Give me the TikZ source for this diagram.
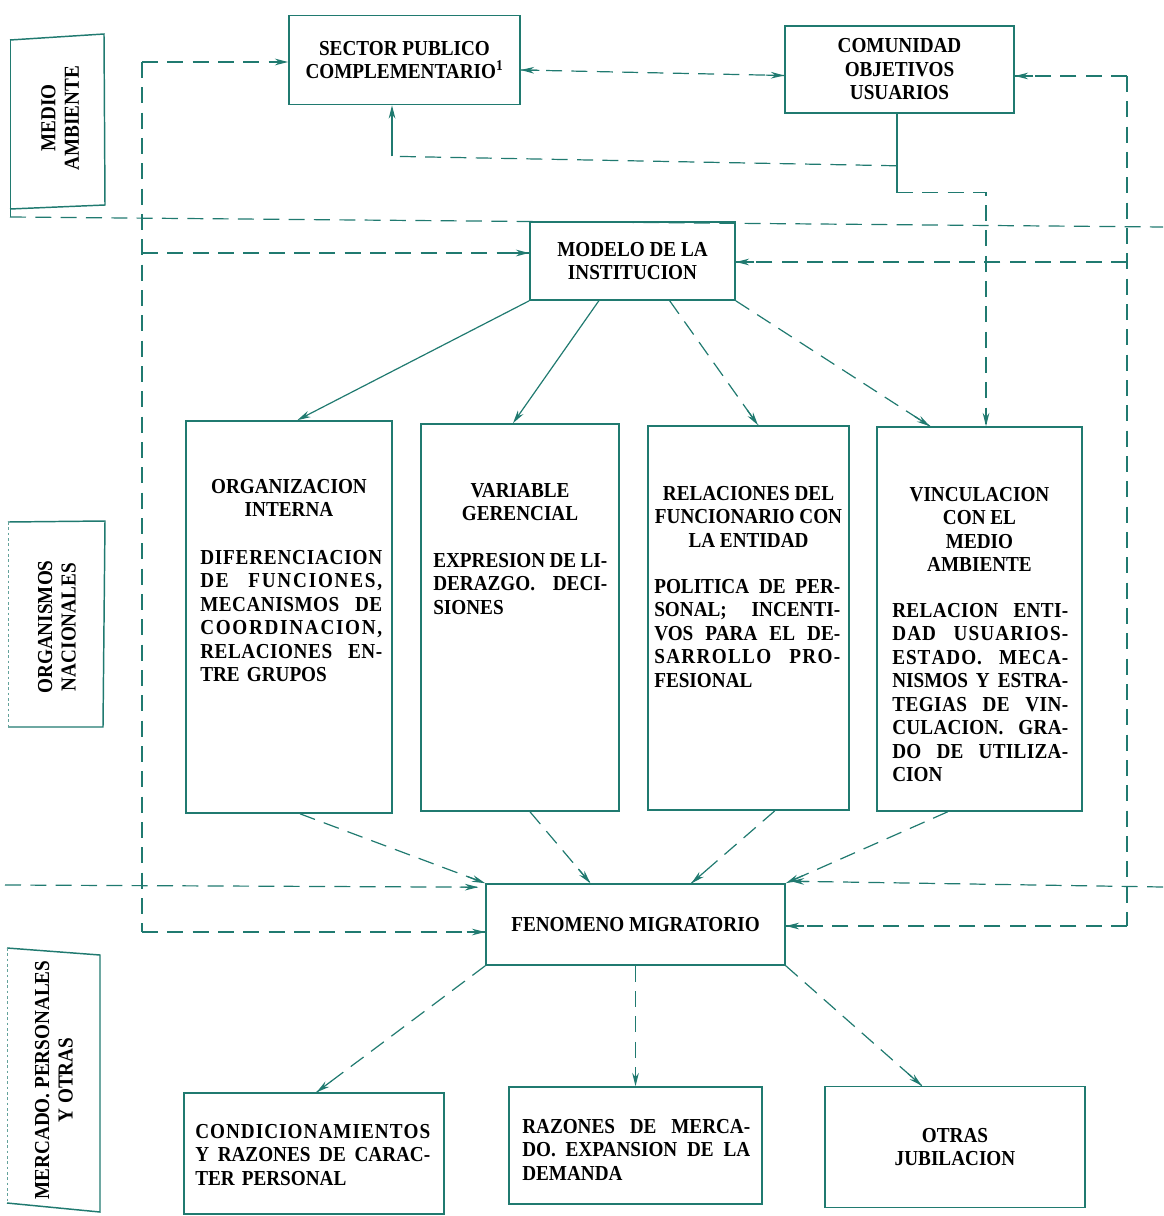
\documentclass[tikz,border=0pt]{standalone}
\usepackage{fontspec}
\setmainfont[FakeStretch=0.9]{Liberation Serif}
\usetikzlibrary{arrows.meta,calc}
\definecolor{tl}{RGB}{32,122,112}
\newlength\jwd
\newcommand\jl[1]{\leavevmode\hbox to\jwd{#1}}
\makeatletter
\def\spr@b#1{\ifx#1\relax\else\hfil\relax #1\expandafter\spr@b\fi}
\def\spreadword#1#2\relax{#1\spr@b#2\relax}
\makeatother
\newcommand\jsp[1]{\leavevmode\hbox to\jwd{\spreadword#1\relax}}
\newcommand\tipat[2]{\draw[sl,arw] ($#2!14pt!#1$) -- #2;}
\newcommand\dashto[2]{\draw[dl] #1 -- #2; \tipat{#1}{#2}}
\begin{document}
\begin{tikzpicture}[x=0.75pt,y=-0.75pt,
  box/.style={draw=tl, line width=1.2pt, inner sep=0pt, align=center,
    font=\fontsize{16}{17.6}\selectfont\bfseries},
  txt/.style={inner sep=0pt, font=\fontsize{16}{17.6}\selectfont\bfseries},
  lbl/.style={inner sep=0pt, align=center, font=\fontsize{16}{17.6}\selectfont\bfseries},
  frame/.style={draw=tl, line width=1.1pt},
  faint/.style={draw=tl!70, line width=0.6pt, dash pattern=on 2pt off 2pt},
  dl/.style={draw=tl, line width=0.9pt, dash pattern=on 12pt off 7pt},
  sl/.style={draw=tl, line width=0.9pt},
  arw/.style={-{Stealth[length=10pt,width=5pt]}}]
\useasboundingbox (0,0) rectangle (1163,1216);

% ---- side labels
\draw[frame] (10,40) -- (104,34) -- (105,205) -- (10,209);
\draw[sl, line width=0.7pt] (10,40) -- (10,217);
\node[lbl, rotate=90] (lmedio) at (60,118) {MEDIO\\AMBIENTE};
\draw[frame] (8,522) -- (105,521) -- (103,727) -- (8,727);
\draw[faint] (8,522) -- (8,727);
\node[lbl, rotate=90] (lorg) at (57,627) {ORGANISMOS\\NACIONALES};
\draw[frame] (7,948) -- (100,955) -- (100,1212) -- (7,1203);
\draw[faint] (7,948) -- (7,1203);
\node[lbl, rotate=90] (lmer) at (54,1080) {MERCADO. PERSONALES\\Y OTRAS};

% ---- boxes
\node[box, minimum width=173.25pt, minimum height=66.75pt] (sector) at (404.5,60) {SECTOR PUBLICO\\COMPLEMENTARIO\textsuperscript{1}};
\node[box, minimum width=171.75pt, minimum height=65.25pt] (comunidad) at (899.5,69.5) {COMUNIDAD\\OBJETIVOS\\USUARIOS};
\node[box, minimum width=153.75pt, minimum height=58.5pt] (modelo) at (632.5,261) {MODELO DE LA\\INSTITUCION};

\node[box, minimum width=154.5pt, minimum height=294pt] (org) at (289,617) {};
\node[box, minimum width=148.5pt, minimum height=290.25pt] (var) at (520,617.5) {};
\node[box, minimum width=150.75pt, minimum height=288pt] (rel) at (748.5,618) {};
\node[box, minimum width=153.75pt, minimum height=288pt] (vin) at (979.5,619) {};

\node[box, minimum width=224.25pt, minimum height=60.75pt] (fen) at (635.5,924.5) {FENOMENO MIGRATORIO};

\node[box, minimum width=195pt, minimum height=90.75pt] (cond) at (314,1153.5) {};
\node[box, minimum width=189.75pt, minimum height=87.75pt] (raz) at (635.5,1145.5) {};
\node[box, minimum width=195pt, minimum height=90.75pt] (otr) at (955,1147) {OTRAS\\JUBILACION};

% ---- texts inside the tall boxes
\node[txt, align=center, anchor=north] (orgT) at (289,479) {ORGANIZACION\\INTERNA};
\node[txt, text width=136.5pt, anchor=north west] (orgB) at (200,550) {\setlength\jwd{136.5pt}\jsp{DIFERENCIACION}\\\jsp{DE~~FUNCIONES,}\\\jsp{MECANISMOS~~DE}\\\jsp{COORDINACION,}\\\jsp{RELACIONES~~EN-}\\TRE GRUPOS};

\node[txt, align=center, anchor=north] (varT) at (520,483) {VARIABLE\\GERENCIAL};
\node[txt, text width=130.5pt, anchor=north west] (varB) at (433,553) {\setlength\jwd{130.5pt}\jl{EXPRESION\hfil DE\hfil LI-}\\\jl{DERAZGO.\hfil DECI-}\\SIONES};

\node[txt, align=center, anchor=north] (relT) at (748.5,486) {RELACIONES DEL\\FUNCIONARIO CON\\LA ENTIDAD};
\node[txt, text width=139.5pt, anchor=north west] (relB) at (654,579) {\setlength\jwd{139.5pt}\jl{POLITICA\hfil DE\hfil PER-}\\\jl{SONAL;\hfil INCENTI-}\\\jl{VOS\hfil PARA\hfil EL\hfil DE-}\\\jsp{SARROLLO~~PRO-}\\FESIONAL};

\node[txt, align=center, anchor=north] (vinT) at (979.5,487) {VINCULACION\\CON EL\\MEDIO\\AMBIENTE};
\node[txt, text width=132pt, anchor=north west] (vinB) at (892,603) {\setlength\jwd{132pt}\jsp{RELACION~~ENTI-}\\\jsp{DAD~~USUARIOS-}\\\jsp{ESTADO.~~MECA-}\\\jl{NISMOS\hfil Y\hfil ESTRA-}\\\jsp{TEGIAS~~DE~~VIN-}\\\jsp{CULACION.~~GRA-}\\\jsp{DO~~DE~~UTILIZA-}\\CION};

\node[txt, text width=176.25pt, anchor=north west] (condT) at (195,1124) {\setlength\jwd{176.25pt}\jsp{CONDICIONAMIENTOS}\\\jl{Y\hfil RAZONES\hfil DE\hfil CARAC-}\\TER PERSONAL};
\node[txt, text width=171pt, anchor=north west] (razT) at (522,1119) {\setlength\jwd{171pt}\jl{RAZONES\hfil DE\hfil MERCA-}\\\jl{DO.\hfil EXPANSION\hfil DE\hfil LA}\\DEMANDA};

% ---- long horizontal dashed lines
\coordinate (hA) at (10,217);
\coordinate (hB) at (1163,227);
\draw[dl] (hA) -- (hB);
\coordinate (hC) at (5,885);
\coordinate (hD) at (1163,887);
\path (fen.north west) ++(-7,4) coordinate (fNW);
\path (fen.north east) ++(5,-2) coordinate (fNE);
\dashto{(hC)}{(fNW)}
\dashto{(hD)}{(fNE)}

% ---- left loop
\coordinate (Lt) at (142,62);
\coordinate (Lm) at (142,253);
\coordinate (Lb) at (142,932);
\coordinate (sL) at (Lt -| sector.west);
\coordinate (mL) at (Lm -| modelo.west);
\coordinate (fL) at (Lb -| fen.west);
\draw[dl] (Lt) -- (Lb);
\dashto{(Lt)}{(sL)}
\dashto{(Lm)}{(mL)}
\dashto{(Lb)}{(fL)}

% ---- right loop
\coordinate (Rt) at (1127,76);
\coordinate (Rm) at (1127,262);
\coordinate (Rb) at (1127,926);
\coordinate (cR) at (Rt -| comunidad.east);
\coordinate (mR) at (Rm -| modelo.east);
\coordinate (fR) at (Rb -| fen.east);
\draw[dl] (Rt) -- (Rb);
\dashto{(Rt)}{(cR)}
\dashto{(Rm)}{(mR)}
\dashto{(Rb)}{(fR)}

% ---- sector <-> comunidad
\path (sector.east) ++(0,10) coordinate (sE);
\path (comunidad.west) ++(0,6) coordinate (cW);
\draw[dl] (sE) -- (cW);
\tipat{(cW)}{(sE)}
\tipat{(sE)}{(cW)}

% ---- comunidad feedback paths
\path (comunidad.south) ++(-2.5,0) coordinate (cS);
\path (cS) ++(0,79) coordinate (c1);
\path (cS) ++(0,52) coordinate (c3);
\path (vin.north) ++(6.5,0) coordinate (vT);
\coordinate (c2) at (c1 -| vT);
\draw[sl] (cS) -- (c1);
\draw[dl] (c1) -- (c2) -- (vT);
\tipat{(c2)}{(vT)}
\path (sector.south) ++(-12.5,0) coordinate (sB);
\path (sB) ++(0,51) coordinate (c4);
\draw[dl] (c3) -- (c4);
\draw[sl,arw] (c4) -- (sB);

% ---- modelo to the four boxes
\coordinate (m1) at ($(modelo.south west)!0.337!(modelo.south east)$);
\coordinate (m2) at ($(modelo.south west)!0.68!(modelo.south east)$);
\coordinate (oT) at ($(org.north west)!0.54!(org.north east)$);
\coordinate (vaT) at ($(var.north west)!0.465!(var.north east)$);
\coordinate (rT) at ($(rel.north west)!0.547!(rel.north east)$);
\coordinate (viT) at ($(vin.north west)!0.26!(vin.north east)$);
\draw[sl,arw] (modelo.south west) -- (oT);
\draw[sl,arw] (m1) -- (vaT);
\dashto{(m2)}{(rT)}
\dashto{(modelo.south east)}{(viT)}

% ---- four boxes to fenomeno
\coordinate (oB) at ($(org.south west)!0.553!(org.south east)$);
\coordinate (vaB) at ($(var.south west)!0.55!(var.south east)$);
\coordinate (rB) at ($(rel.south west)!0.63!(rel.south east)$);
\coordinate (viB) at ($(vin.south west)!0.346!(vin.south east)$);
\coordinate (f1) at ($(fen.north west)!0.35!(fen.north east)$);
\coordinate (f2) at ($(fen.north west)!0.686!(fen.north east)$);
\dashto{(oB)}{(fen.north west)}
\dashto{(vaB)}{(f1)}
\dashto{(rB)}{(f2)}
\dashto{(viB)}{(fen.north east)}

% ---- fenomeno to bottom boxes
\coordinate (cT) at ($(cond.north west)!0.51!(cond.north east)$);
\coordinate (oT2) at ($(otr.north west)!0.373!(otr.north east)$);
\dashto{(fen.south west)}{(cT)}
\dashto{(fen.south)}{(raz.north)}
\dashto{(fen.south east)}{(oT2)}
\end{tikzpicture}
\end{document}
